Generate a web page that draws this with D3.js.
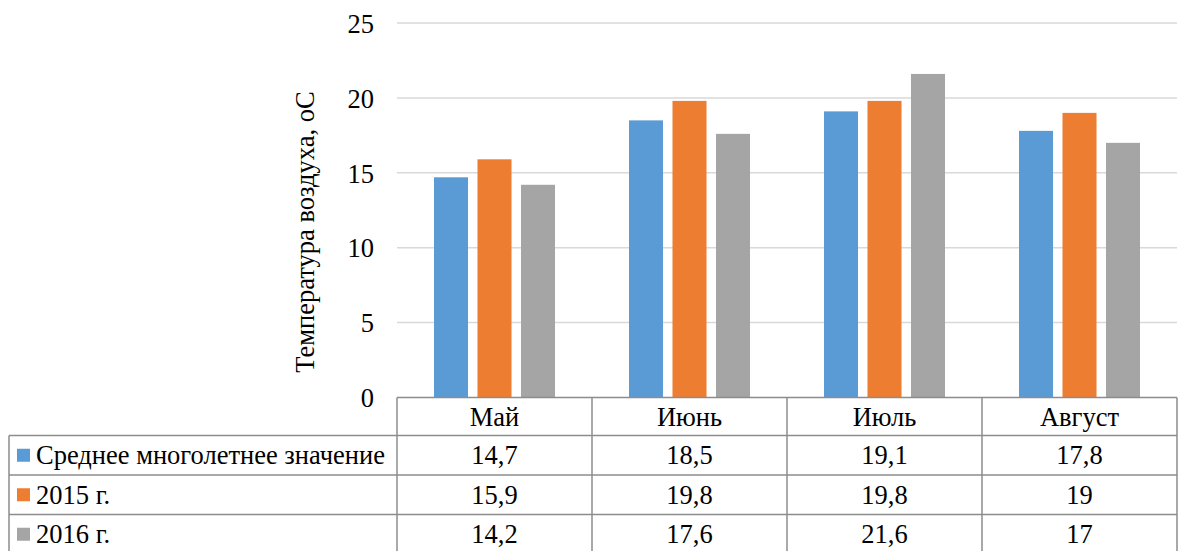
<!DOCTYPE html>
<html>
<head>
<meta charset="utf-8">
<script src="https://cdn.jsdelivr.net/npm/d3@7"></script>
<style>
  html, body { margin: 0; padding: 0; background: #fff; }
  svg { display: block; }
</style>
</head>
<body>
<svg id="chart" width="1179" height="551"></svg>
<script>
// Месяцы и ряды данных
const months = ["Май", "Июнь", "Июль", "Август"];
const seriesNames = ["Среднее многолетнее значение", "2015 г.", "2016 г."];
const seriesColors = ["#5B9BD5", "#ED7D31", "#A5A5A5"];
const meanValues = [14.7, 18.5, 19.1, 17.8];
const values2015 = [15.9, 19.8, 19.8, 19];
const values2016 = [14.2, 17.6, 21.6, 17];
const yTicks = [0, 5, 10, 15, 20, 25];
const yTitle = "Температура воздуха, оС";

const seriesValues = [meanValues, values2015, values2016];
const fmt = v => String(v).replace(".", ",");
const FONT = "'Liberation Serif'";
const FS = "26.5px";

const svg = d3.select("#chart");
const plot = { left: 397, right: 1177, top: 23, bottom: 397.5 };
const tableLeft = 9;
const rowH = 39.5;

// Общий стиль подписей
const label = sel => sel.style("font-family", FONT).style("font-size", FS).attr("fill", "#000");

const y = d3.scaleLinear().domain([0, 25]).range([plot.bottom, plot.top]);
const x0 = d3.scaleBand().domain(months).range([plot.left, plot.right]).padding(0);
const inner = 121;
const x1 = d3.scaleBand().domain(d3.range(3))
  .range([(x0.bandwidth() - inner) / 2, (x0.bandwidth() + inner) / 2])
  .paddingInner(0.218).paddingOuter(0);

// Сетка
svg.append("g").selectAll("line").data(yTicks.filter(t => t > 0)).join("line")
  .attr("x1", plot.left).attr("x2", plot.right)
  .attr("y1", d => y(d)).attr("y2", d => y(d))
  .attr("stroke", "#D9D9D9").attr("stroke-width", 1.5);

// Подписи оси Y
const yAxis = d3.axisLeft(y).tickValues(yTicks).tickSize(0).tickPadding(0);
const gy = svg.append("g").attr("transform", `translate(374,0)`).call(yAxis);
gy.select(".domain").remove();
gy.selectAll("text").call(label).attr("dy", "0.35em");

// Заголовок оси Y
svg.append("text")
  .attr("transform", `translate(305,232) rotate(-90)`)
  .attr("text-anchor", "middle")
  .attr("dominant-baseline", "central")
  .call(label)
  .text(yTitle);

// Столбцы
const groups = svg.append("g").selectAll("g").data(months).join("g")
  .attr("transform", d => `translate(${x0(d)},0)`);
groups.selectAll("rect")
  .data((m, i) => seriesValues.map((vals, s) => ({ s, v: vals[i] })))
  .join("rect")
  .attr("x", d => x1(d.s))
  .attr("width", x1.bandwidth())
  .attr("y", d => y(d.v))
  .attr("height", d => y(0) - y(d.v))
  .attr("fill", d => seriesColors[d.s]);

// Таблица данных
const border = "#8C8C8C";
const tbl = svg.append("g").attr("stroke", border).attr("stroke-width", 1.5).attr("fill", "none");
const rowTops = [plot.bottom, plot.bottom + 38, plot.bottom + 38 + rowH, plot.bottom + 38 + rowH * 2];
tbl.append("line").attr("x1", plot.left).attr("x2", plot.right).attr("y1", rowTops[0]).attr("y2", rowTops[0]);
rowTops.slice(1).forEach(yy => {
  tbl.append("line").attr("x1", tableLeft).attr("x2", plot.right).attr("y1", yy).attr("y2", yy);
});
const colXs = months.map(m => x0(m)).concat([plot.right]);
colXs.forEach(xx => {
  tbl.append("line").attr("x1", xx).attr("x2", xx).attr("y1", rowTops[0]).attr("y2", 551);
});
tbl.append("line").attr("x1", tableLeft).attr("x2", tableLeft).attr("y1", rowTops[1]).attr("y2", 551);

// Заголовки месяцев
svg.append("g").selectAll("text").data(months).join("text")
  .attr("x", d => x0(d) + x0.bandwidth() / 2)
  .attr("y", (rowTops[0] + rowTops[1]) / 2)
  .attr("text-anchor", "middle").attr("dominant-baseline", "central")
  .call(label)
  .text(d => d);

// Строки легенды и значения
seriesNames.forEach((name, s) => {
  const top = rowTops[s + 1];
  const cy = top + rowH / 2;
  svg.append("rect").attr("x", 17).attr("y", cy - 6.5).attr("width", 13).attr("height", 13)
    .attr("fill", seriesColors[s]);
  svg.append("text").attr("x", 36).attr("y", cy)
    .attr("dominant-baseline", "central")
    .call(label).text(name);
  svg.append("g").selectAll("text").data(months).join("text")
    .attr("x", d => x0(d) + x0.bandwidth() / 2)
    .attr("y", cy)
    .attr("text-anchor", "middle").attr("dominant-baseline", "central")
    .call(label)
    .text((d, i) => fmt(seriesValues[s][i]));
});
</script>
</body>
</html>
